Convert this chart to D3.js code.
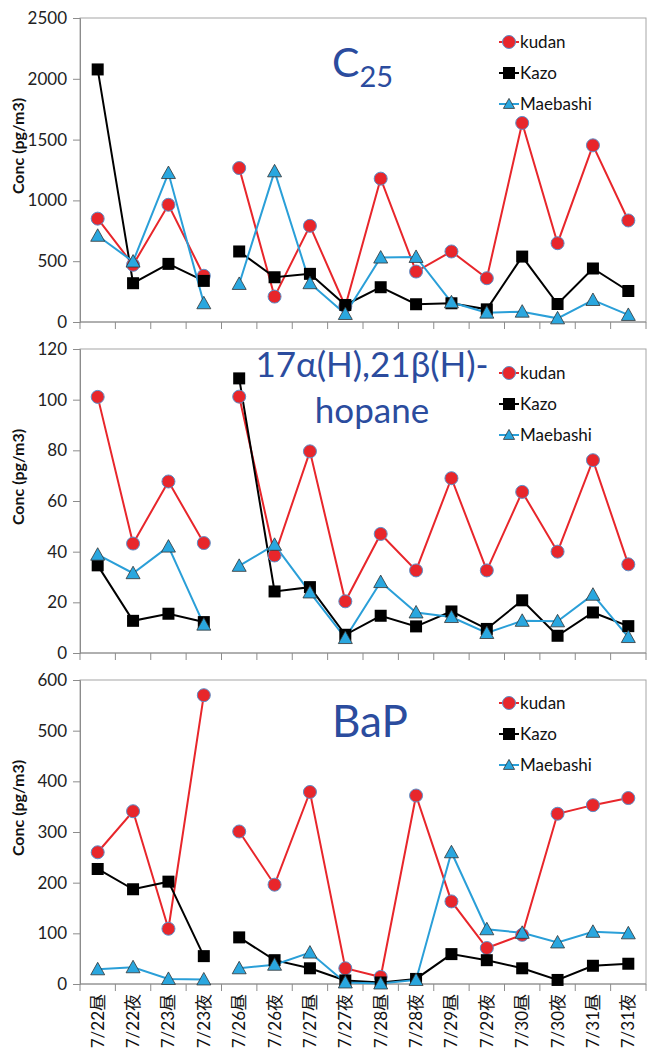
<!DOCTYPE html>
<html>
<head>
<meta charset="utf-8">
<script src="https://cdn.jsdelivr.net/npm/d3@7"></script>
<style>
  body { margin: 0; background: #fff; }
  svg { display: block; }
  text { font-family: Lato, "Noto Sans CJK JP", sans-serif; }
</style>
</head>
<body>
<svg id="chart" width="651" height="1048"></svg>
<script>
const categories = ['7/22昼', '7/22夜', '7/23昼', '7/23夜', '7/26昼', '7/26夜', '7/27昼', '7/27夜',
    '7/28昼', '7/28夜', '7/29昼', '7/29夜', '7/30昼', '7/30夜', '7/31昼', '7/31夜'];

// line is broken between 7/23夜 and 7/26昼
const segments = [[0, 3], [4, 15]];

const seriesNames = ['kudan', 'Kazo', 'Maebashi'];

const c25Kudan = [850, 470, 964, 380, 1266, 209, 791, 130, 1179, 415, 580, 360, 1637, 648, 1453, 835];
const c25Kazo = [2077, 319, 478, 338, 580, 368, 396, 140, 286, 146, 154, 104, 538, 148, 440, 255];
const c25Maebashi = [709, 497, 1225, 154, 313, 1239, 319, 66, 530, 535, 162, 77, 85, 30, 181, 58];

const hopKudan = [101.1, 43.2, 67.7, 43.4, 101.2, 38.5, 79.6, 20.4, 47.0, 32.6, 69.0, 32.6, 63.6, 40.0, 76.1, 35.0];
const hopKazo = [34.6, 12.7, 15.5, 12.2, 108.4, 24.3, 26.0, 7.2, 14.7, 10.5, 16.4, 9.5, 20.8, 6.8, 16.0, 10.6];
const hopMaebashi = [38.8, 31.5, 42.0, 11.2, 34.4, 42.7, 23.9, 5.9, 28.0, 16.0, 14.2, 7.9, 12.7, 12.5, 23.0, 6.3];

const bapKudan = [260, 341, 109, 570, 301, 196, 379, 31, 14, 372, 163, 71, 97, 336, 353, 367];
const bapKazo = [227, 187, 202, 55, 92, 47, 31, 7, 3, 10, 59, 47, 31, 8, 36, 40];
const bapMaebashi = [29, 33, 10, 9, 31, 38, 62, 3, 1, 8, 260, 108, 101, 82, 103, 100];

const c25Ticks = [0, 500, 1000, 1500, 2000, 2500];
const hopTicks = [0, 20, 40, 60, 80, 100, 120];
const bapTicks = [0, 100, 200, 300, 400, 500, 600];

const panels = [
    { top: 18, max: 2500, ticks: c25Ticks, series: [c25Kudan, c25Kazo, c25Maebashi], title: 'c25', legendY: 42 },
    { top: 349, max: 120, ticks: hopTicks, series: [hopKudan, hopKazo, hopMaebashi], title: 'hopane', legendY: 373 },
    { top: 680, max: 600, ticks: bapTicks, series: [bapKudan, bapKazo, bapMaebashi], title: 'bap', legendY: 703 },
];

const plotH = 304;
const left = 80, right = 646;
const titleColor = '#2b4c9e';
const styles = [
    { line: '#e8262b', fill: '#e8262b', stroke: '#5b8fc9', shape: 'circle' },
    { line: '#000', fill: '#000', stroke: '#000', shape: 'square' },
    { line: '#2a9fd8', fill: '#2aa7df', stroke: '#333', shape: 'triangle' },
];

const svg = d3.select('#chart');
const xs = d3.scaleBand().domain(d3.range(categories.length)).range([left, right]);
const cx = i => xs(i) + xs.bandwidth() / 2;

const drawMarker = (g, st, x, y, k = 1) => {
    if (st.shape === 'circle') {
        g.append('circle').attr('cx', x).attr('cy', y).attr('r', 6.5 * k)
            .attr('fill', st.fill).attr('stroke', st.stroke).attr('stroke-width', 1);
    } else if (st.shape === 'square') {
        g.append('rect').attr('x', x - 6 * k).attr('y', y - 6 * k).attr('width', 12 * k).attr('height', 12 * k)
            .attr('fill', st.fill);
    } else {
        g.append('path').attr('d', `M${x},${y - 7 * k}L${x + 7 * k},${y + 5.5 * k}L${x - 7 * k},${y + 5.5 * k}Z`)
            .attr('fill', st.fill).attr('stroke', st.stroke).attr('stroke-width', 0.8);
    }
};

panels.forEach(p => {
    const ys = d3.scaleLinear().domain([0, p.max]).range([p.top + plotH, p.top]);
    const g = svg.append('g');

    // plot frame
    g.append('rect').attr('x', left).attr('y', p.top).attr('width', right - left).attr('height', plotH)
        .attr('fill', 'none').attr('stroke', '#a6a6a6').attr('stroke-width', 1);

    const yAxis = g.append('g').attr('transform', `translate(${left},0)`)
        .call(d3.axisLeft(ys).tickValues(p.ticks).tickFormat(d3.format('d')).tickSize(7).tickPadding(6));
    yAxis.selectAll('path, line').attr('stroke', '#8c8c8c');
    yAxis.selectAll('text').attr('font-size', 17).attr('fill', '#222')
        .style('font-family', 'Lato, sans-serif');

    const xAxis = g.append('g').attr('transform', `translate(0,${p.top + plotH})`);
    xAxis.append('line').attr('x1', left).attr('x2', right).attr('stroke', '#8c8c8c');
    xAxis.selectAll('.tk').data(d3.range(categories.length + 1)).enter().append('line')
        .attr('x1', i => left + i * xs.step()).attr('x2', i => left + i * xs.step())
        .attr('y1', 0).attr('y2', 7).attr('stroke', '#8c8c8c');

    // y label
    g.append('text')
        .attr('transform', `translate(24,${p.top + plotH / 2 - 24}) rotate(-90)`)
        .attr('text-anchor', 'middle').attr('font-size', 16).attr('font-weight', 'bold')
        .attr('fill', '#111').text('Conc (pg/m3)');

    // series
    p.series.forEach((vals, si) => {
        const st = styles[si];
        const line = d3.line().x(i => cx(i)).y(i => ys(vals[i]));
        segments.forEach(([a, b]) => {
            g.append('path').attr('d', line(d3.range(a, b + 1)))
                .attr('fill', 'none').attr('stroke', st.line).attr('stroke-width', 2);
        });
    });
    p.series.forEach((vals, si) => {
        vals.forEach((v, i) => drawMarker(g, styles[si], cx(i), ys(v)));
    });

    // legend
    seriesNames.forEach((name, si) => {
        const y = p.legendY + si * 31;
        g.append('line').attr('x1', 499).attr('x2', 519).attr('y1', y).attr('y2', y)
            .attr('stroke', styles[si].line).attr('stroke-width', 2);
        drawMarker(g, styles[si], 509, y, si === 2 ? 0.8 : 1);
        g.append('text').attr('x', 520).attr('y', y + 6).attr('font-size', 17)
            .attr('fill', '#111').text(name);
    });

    // title
    if (p.title === 'c25') {
        const t = g.append('text').attr('x', 332).attr('y', 77).attr('fill', titleColor).attr('font-size', 41);
        t.append('tspan').text('C');
        t.append('tspan').attr('font-size', 29).attr('dy', 10).text('25');
    } else if (p.title === 'hopane') {
        const t = g.append('text').attr('text-anchor', 'middle').attr('fill', titleColor).attr('font-size', 35);
        t.append('tspan').attr('x', 372).attr('y', 377).text('17α(H),21β(H)-');
        t.append('tspan').attr('x', 372).attr('y', 423).text('hopane');
    } else {
        g.append('text').attr('x', 332).attr('y', 737).attr('fill', titleColor).attr('font-size', 44).text('BaP');
    }
});

// category labels under the bottom panel
const last = panels[panels.length - 1];
svg.append('g').selectAll('text').data(categories).enter().append('text')
    .attr('transform', (d, i) => `translate(${cx(i) + 6},${last.top + plotH + 10}) rotate(-90)`)
    .attr('text-anchor', 'end').attr('font-size', 17).attr('fill', '#111')
    .text(d => d);
</script>
</body>
</html>
